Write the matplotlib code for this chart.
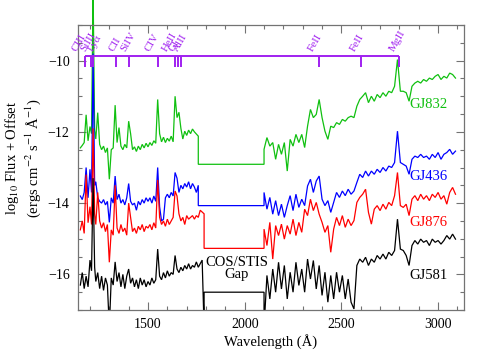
import numpy as np
import matplotlib
matplotlib.use('Agg')
import matplotlib.pyplot as plt
from matplotlib.ticker import MultipleLocator

plt.rcParams['font.family'] = ['Liberation Serif', 'DejaVu Serif']
plt.rcParams['mathtext.fontset'] = 'stix'

nan = np.nan

# ---------------- data ----------------
fuv_wave = [1150, 1160, 1170, 1180, 1190, 1200, 1208, 1216, 1224] + list(range(1230, 1791, 10))
nuv_wave = list(range(2100, 3091, 15))

star_names = ['GJ832', 'GJ436', 'GJ876', 'GJ581']

gj832_fuv = [-12.45, -12.38, -12.30, -11.52, -12.25, -11.85, -12.05, -8.00, -11.95,
             -12.20, -11.46, -12.35, -12.50, -12.40, -12.58, -12.45, -13.33, -12.50, -12.45,
             -11.25, -12.30, -11.88, -12.40, -12.50, -12.35, -12.45, -11.70, -12.05, -12.50,
             -12.42, -12.55, -12.40, -12.50, -12.35, -12.45, -12.32, -12.42, -12.30, -12.38,
             -12.25, -12.32, -11.09, -12.05, -12.28, -12.15, -12.30, -12.18, -12.26, -12.12,
             -12.28, -11.00, -11.60, -11.45, -11.90, -12.20, -11.98, -12.10, -11.95, -12.05,
             -11.92, -12.00, -12.06, -12.12, nan, nan, nan]
gj436_fuv = [-13.80, -13.90, -13.70, -13.00, -13.85, -13.05, -13.70, -9.80, -13.50,
             -13.40, -13.85, -13.95, -14.00, -13.90, -14.05, -13.95, -14.54, -13.85, -14.00,
             -13.24, -13.90, -13.75, -14.00, -13.90, -14.05, -13.85, -13.45, -13.95, -14.05,
             -14.00, -14.20, -13.95, -14.05, -13.90, -14.00, -13.85, -13.95, -13.85, -14.00,
             -13.80, -13.95, -13.00, -14.10, -14.50, -14.45, -13.85, -13.75, -13.85, -13.70,
             -13.80, -13.14, -13.30, -13.70, -13.50, -13.60, -13.45, -13.55, -13.40, -13.60,
             -13.45, -13.55, -13.70, -13.50, nan, nan, nan]
gj876_fuv = [-14.75, -14.50, -14.85, -13.20, -14.55, -14.10, -14.60, -11.90, -14.30,
             -14.60, -13.70, -14.50, -14.70, -14.55, -14.80, -14.60, -15.66, -14.75, -14.90,
             -13.50, -14.70, -14.85, -14.60, -14.80, -14.70, -14.90, -14.00, -14.40, -14.80,
             -14.70, -14.85, -14.65, -14.75, -14.60, -14.80, -14.65, -14.70, -14.60, -14.75,
             -14.55, -14.70, -13.35, -14.40, -14.60, -14.50, -14.65, -14.45, -14.60, -14.50,
             -14.40, -13.66, -13.80, -14.30, -14.50, -14.40, -14.60, -14.35, -14.45, -14.40,
             -14.35, -14.45, -14.35, -14.40, -14.20, -14.25, -14.30]
gj581_fuv = [-16.30, -15.95, -16.40, -16.05, -16.35, -15.60, -15.90, -13.30, -15.80,
             -16.20, -15.95, -16.40, -16.05, -16.45, -16.10, -16.30, -17.50, -16.10, -16.30,
             -15.65, -16.20, -15.95, -16.35, -16.00, -16.40, -16.05, -15.85, -16.25, -16.10,
             -16.35, -16.15, -16.40, -16.10, -16.30, -16.15, -16.35, -16.20, -16.30, -16.10,
             -16.25, -16.15, -15.29, -16.05, -16.15, -15.95, -16.10, -15.90, -16.05, -15.95,
             -16.00, -15.47, -15.85, -15.95, -15.80, -15.90, -15.75, -15.85, -15.70, -15.85,
             -15.75, -15.80, -15.65, -15.80, -15.70, -15.60, -17.50]

gj832_nuv = [-12.49, -12.16, -12.40, -12.30, -12.77, -12.35, -12.63, -12.30, -13.10, -12.21,
             -12.40, -12.07, -12.30, -12.07, -12.44, -11.84, -11.37, -11.60, -11.51, -11.09,
             -11.60, -11.98, -12.21, -11.84, -11.88, -11.74, -11.79, -11.65, -11.70, -11.60,
             -11.56, -11.60, -11.28, -11.09, -11.00, -10.90, -11.18, -11.00, -11.14, -10.95,
             -11.04, -10.90, -11.00, -10.86, -10.90, -10.72, -9.97, -10.86, -10.86, -10.90,
             -11.14, -10.72, -10.63, -10.58, -10.63, -10.53, -10.58, -10.49, -10.53, -10.44,
             -10.39, -10.53, -10.44, -10.49, -10.35, -10.39, -10.49]
gj436_nuv = [-13.70, -14.17, -13.84, -14.31, -13.93, -14.35, -14.03, -14.40, -14.07, -13.79,
             -14.21, -13.75, -14.12, -13.89, -14.07, -13.52, -13.33, -13.70, -13.38, -13.24,
             -13.89, -14.07, -13.93, -14.26, -13.98, -13.70, -13.84, -13.66, -13.79, -13.61,
             -13.75, -13.66, -13.42, -13.19, -13.28, -13.10, -13.24, -13.10, -13.19, -13.05,
             -13.14, -13.00, -13.10, -12.96, -13.00, -12.86, -11.98, -12.86, -12.91, -12.96,
             -13.19, -12.77, -12.68, -12.72, -12.63, -12.72, -12.68, -12.77, -12.63, -12.72,
             -12.58, -12.77, -12.63, -12.58, -12.49, -12.63, -12.54]
gj876_nuv = [-14.73, -15.19, -14.54, -15.57, -14.63, -14.91, -14.59, -15.01, -14.63, -14.87,
             -14.45, -14.91, -14.54, -14.82, -14.17, -14.35, -13.89, -14.21, -13.98, -14.31,
             -14.54, -14.82, -14.63, -15.38, -14.73, -14.40, -14.63, -14.35, -14.68, -14.45,
             -14.63, -14.49, -13.98, -13.84, -13.75, -13.61, -14.26, -14.59, -14.17, -14.07,
             -14.21, -14.03, -14.17, -13.98, -14.07, -13.79, -13.14, -14.07, -14.12, -14.03,
             -14.35, -13.89, -13.79, -13.93, -13.75, -13.89, -13.79, -13.93, -13.75, -13.84,
             -13.70, -13.89, -13.79, -14.03, -13.70, -13.56, -13.75]
gj581_nuv = [-17.50, -16.03, -16.69, -15.85, -16.50, -15.66, -16.41, -15.75, -16.69, -15.94,
             -16.50, -15.66, -16.31, -15.85, -16.50, -15.57, -16.13, -15.61, -16.41, -15.75,
             -16.59, -15.94, -16.78, -16.03, -16.69, -15.94, -16.50, -16.03, -16.69, -16.13,
             -16.78, -16.97, -15.75, -15.57, -15.66, -15.52, -15.75, -15.57, -15.66, -15.47,
             -15.57, -15.43, -15.57, -15.38, -15.47, -15.33, -14.45, -15.29, -15.33, -15.47,
             -15.75, -15.19, -15.05, -15.15, -15.01, -15.10, -15.05, -15.19, -15.01, -15.10,
             -15.05, -15.15, -15.05, -14.91, -15.01, -14.87, -15.01]

gap_levels = [-12.91, -14.07, -15.27, -16.50]

ion_names = ['CIII', 'SiIII', 'Lyα', 'CII', 'SiIV', 'CIV', 'HeII', 'CI', 'AlII', 'FeII', 'FeII', 'MgII']
ion_waves = [1175, 1206, 1216, 1335, 1400, 1550, 1640, 1657, 1671, 2382, 2600, 2800]

# ---------------- style ----------------
colors = ['#10c010', '#0000ff', '#ff0000', '#000000']
purple = '#a020f0'
label_dx_px = [-9, -6, 0, -3, -3, -8, -8, -5, -3, -6, -6, -5]
star_label_pos = [(2852, -11.23), (2852, -13.24), (2852, -14.53), (2852, -16.04)]

fig = plt.figure(figsize=(4.88, 3.6), dpi=100)
ax = fig.add_axes([78/488, 50/360, 386/488, 285/360])

fuv_w = np.array(fuv_wave, dtype=float)
nuv_w = np.array(nuv_wave, dtype=float)
fuv_all = [gj832_fuv, gj436_fuv, gj876_fuv, gj581_fuv]
nuv_all = [gj832_nuv, gj436_nuv, gj876_nuv, gj581_nuv]

ax.set_xlim(1138, 3134)
ax.set_ylim(-17, -9)

for i, (name, c, fv, nv, gap, pos) in enumerate(zip(star_names, colors, fuv_all, nuv_all,
                                                      gap_levels, star_label_pos)):
    fv = np.array(fv, dtype=float)
    nv = np.array(nv, dtype=float)
    m = ~np.isnan(fv)
    x = np.concatenate([fuv_w[m], [fuv_w[m][-1], nuv_w[0]], nuv_w])
    y = np.concatenate([fv[m], [gap, gap], nv])
    ln, = ax.plot(x, y, color=c, lw=0.9, solid_joinstyle='miter')
    if i == 0:
        # the Ly-alpha peak of the top spectrum runs past the frame in the original
        ln.set_clip_on(False)
    ax.text(pos[0], pos[1], name, color=c, fontsize=10.5, ha='left', va='center')

# line identification bracket
bar_y = -9.86
tick_bot = -10.17
ax.hlines(bar_y, min(ion_waves), max(ion_waves), color=purple, lw=1.4, zorder=5)
ax.vlines(ion_waves, tick_bot, bar_y, color=purple, lw=1.4, zorder=5)
for nm, w, dx in zip(ion_names, ion_waves, label_dx_px):
    ax.annotate(nm, xy=(w, bar_y), xytext=(dx, 4), textcoords='offset pixels',
                rotation=60, rotation_mode='anchor', ha='left', va='baseline',
                color=purple, fontsize=8, annotation_clip=False)

ax.text(1958, -15.83, 'COS/STIS\nGap', ha='center', va='center', fontsize=10.5,
        linespacing=0.95)

ax.xaxis.set_major_locator(MultipleLocator(500))
ax.xaxis.set_minor_locator(MultipleLocator(100))
ax.yaxis.set_major_locator(MultipleLocator(2))
ax.yaxis.set_minor_locator(MultipleLocator(0.5))

spine_col = '0.45'
for s in ax.spines.values():
    s.set_color(spine_col)
    s.set_linewidth(0.9)
ax.tick_params(which='both', direction='in', top=True, right=True, color=spine_col,
               labelsize=10, labelcolor='black', width=0.8)
ax.tick_params(which='major', length=6, pad=6)
ax.tick_params(which='minor', length=3)

ax.set_xlabel('Wavelength (Å)', fontsize=10.5, labelpad=2)
# two-line y label, placed as separate rotated texts
fig.text(12/488, 1 - 158/360, 'log$_{10}$ Flux + Offset', rotation=90,
         ha='center', va='center', fontsize=10.5)
fig.text(33/488, 1 - 158/360, '(ergs cm$^{-2}$ s$^{-1}$ Å$^{-1}$)', rotation=90,
         ha='center', va='center', fontsize=10.5)

fig.savefig('out.png', dpi=100)
